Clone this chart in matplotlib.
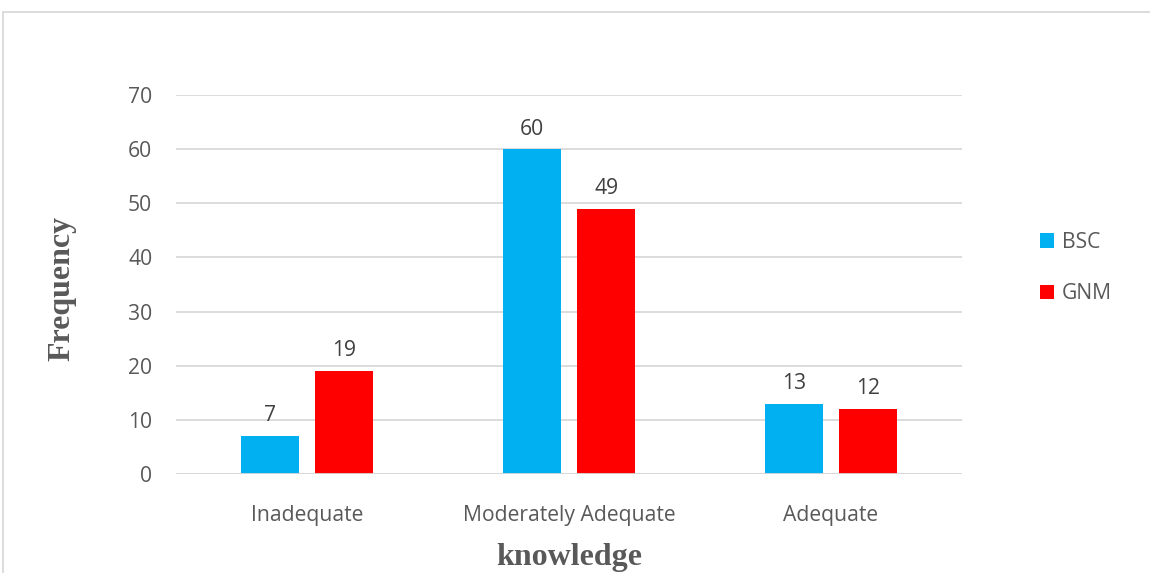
import matplotlib
matplotlib.use("Agg")
import matplotlib.pyplot as plt
import numpy as np
from matplotlib.patches import Rectangle

categories = ["Inadequate", "Moderately Adequate", "Adequate"]
series_names = ["BSC", "GNM"]
bsc = [7, 60, 13]
gnm = [19, 49, 12]
colors = ["#00B0F0", "#FF0000"]

fig = plt.figure(figsize=(11.5, 5.73), dpi=100)
ax = fig.add_axes([0.153, 0.1728, 0.6835, 0.6612])

x = np.arange(len(categories))
w = 0.223
off = 0.142
txt = "#595959"
tfont = "Open Sans"
fs = 15.2
b1 = ax.bar(x - off, bsc, w, color=colors[0], label=series_names[0], zorder=3)
b2 = ax.bar(x + off, gnm, w, color=colors[1], label=series_names[1], zorder=3)
for bars in (b1, b2):
    for r in bars:
        ax.annotate(f"{int(r.get_height())}", (r.get_x() + r.get_width()/2, r.get_height()),
                    xytext=(0, 7), textcoords="offset points", ha="center", va="bottom",
                    fontsize=fs, color="#404040", family=tfont)

ax.set_xlim(-0.5, 2.5)
ax.set_ylim(0, 70)
ax.set_yticks(range(0, 71, 10))
ax.set_xticks(x)
ax.set_xticklabels(categories)
ax.yaxis.grid(True, color="#D9D9D9", linewidth=1.3, zorder=0)
for s in ax.spines.values():
    s.set_visible(False)
ax.axhline(0, color="#D9D9D9", linewidth=1.3, zorder=4)
ax.tick_params(axis="both", length=0, labelsize=fs, labelcolor=txt)
ax.tick_params(axis="y", pad=17)
ax.tick_params(axis="x", pad=22)
for lab in ax.get_xticklabels() + ax.get_yticklabels():
    lab.set_family(tfont)

fig.text(0.054, 0.497, "Frequency", rotation=90, ha="center", va="center",
         fontsize=23, fontweight="bold", family="Liberation Serif", color=txt)
fig.text(0.495, 0.027, "knowledge", ha="center", va="center",
         fontsize=23, fontweight="bold", family="Liberation Serif", color=txt)

leg = fig.legend(handles=[b1, b2], labels=series_names, loc="center left",
                 bbox_to_anchor=(0.904, 0.532), frameon=False,
                 borderaxespad=0, borderpad=0,
                 handlelength=0.7, handleheight=0.7, handletextpad=0.35,
                 labelspacing=1.45, labelcolor=txt, prop={"family": tfont, "size": fs})

fig.patches.append(Rectangle((3/1150, -0.05), 1.2, 1 - 12/573 + 0.05,
                             transform=fig.transFigure, fill=False,
                             edgecolor="#D9D9D9", linewidth=1.3, figure=fig))

fig.savefig("out.png", dpi=100)
